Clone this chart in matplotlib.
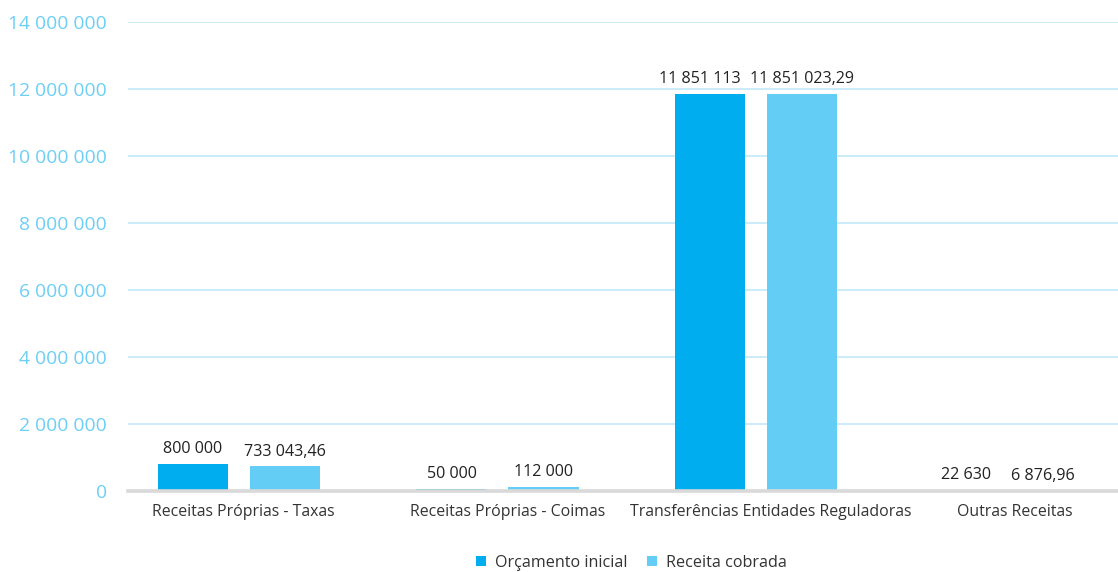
import numpy as np
import matplotlib.pyplot as plt
import matplotlib.transforms as mtransforms
from matplotlib.ticker import FuncFormatter

plt.rcParams['font.family'] = ['Open Sans', 'DejaVu Sans']

categorias = ["Receitas Próprias - Taxas", "Receitas Próprias - Coimas",
              "Transferências Entidades Reguladoras", "Outras Receitas"]
orcamento_inicial = [800000, 50000, 11851113, 22630]
receita_cobrada = [733043.46, 112000, 11851023.29, 6876.96]
rotulos_orcamento = ["800 000", "50 000", "11 851 113", "22 630"]
rotulos_receita = ["733 043,46", "112 000", "11 851 023,29", "6 876,96"]
# deslocamento horizontal (px) dos rótulos para evitar sobreposição
desl_orcamento = [0, 0, -10, -3]
desl_receita = [0, 0, 0, -18]
desl_categorias = [4, 10, 15, 0]

cor_orc = "#00AEEF"
cor_rec = "#63CDF6"

fig = plt.figure(figsize=(11.18, 5.72), dpi=100)
ax = fig.add_axes([0.1145, 0.1416, 0.8855, 0.8199])

x = np.arange(len(categorias))
w = 0.271
off = 0.178
b1 = ax.bar(x - off, orcamento_inicial, w, color=cor_orc, label="Orçamento inicial", zorder=3)
b2 = ax.bar(x + off, receita_cobrada, w, color=cor_rec, label="Receita cobrada", zorder=3)

for bars, rot, desl in ((b1, rotulos_orcamento, desl_orcamento),
                        (b2, rotulos_receita, desl_receita)):
    for b, t, d in zip(bars, rot, desl):
        ax.annotate(t, (b.get_x() + b.get_width() / 2, b.get_height()),
                    xytext=(d * 0.72, 5), textcoords="offset points",
                    ha="center", va="bottom", fontsize=11.6, color="#222222")

ax.set_xlim(-0.429, 3.400)
ax.set_ylim(0, 14000000)
ax.set_yticks(np.arange(0, 14000001, 2000000))
ax.yaxis.set_major_formatter(FuncFormatter(lambda v, p: f"{int(v):,}".replace(",", " ")))
ax.tick_params(axis="y", length=0, labelsize=13.9, labelcolor="#6DCFF6", pad=15)
ax.set_xticks(x)
ax.set_xticklabels(categorias)
ax.tick_params(axis="x", length=0, labelsize=11.4, labelcolor="#333333", pad=9)
for lbl, d in zip(ax.get_xticklabels(), desl_categorias):
    lbl.set_transform(lbl.get_transform() +
                      mtransforms.ScaledTranslation(d / 100, 0, fig.dpi_scale_trans))

ax.grid(axis="y", color="#C4E9F8", linewidth=1.2, zorder=0)
for s in ("top", "right", "left"):
    ax.spines[s].set_visible(False)
ax.spines["bottom"].set_color("#D9D9D9")
ax.spines["bottom"].set_linewidth(2.6)
ax.spines["bottom"].set_zorder(4)

fig.legend(handles=[b1, b2], loc="center", bbox_to_anchor=(0.565, 0.016),
           ncol=2, frameon=False, fontsize=11.6, handlelength=0.6, handleheight=0.6,
           handletextpad=0.6, columnspacing=1.2, labelcolor="#333333")

plt.savefig("out.png", dpi=100)
